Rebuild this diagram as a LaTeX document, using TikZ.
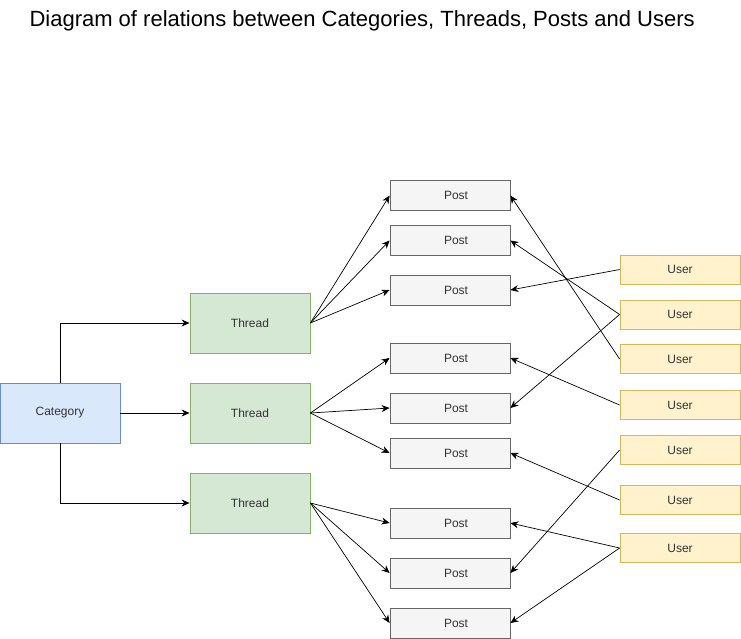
\documentclass[tikz,border=0pt]{standalone}
\usepackage{fontspec}
\setmainfont{Liberation Sans}
\usepackage{xcolor}
\usepackage{tikz}
\usetikzlibrary{arrows.meta}

\definecolor{catfill}{HTML}{DAE8FC}
\definecolor{catline}{HTML}{6C8EBF}
\definecolor{threadfill}{HTML}{D5E8D4}
\definecolor{threadline}{HTML}{82B366}
\definecolor{postfill}{HTML}{F5F5F5}
\definecolor{postline}{HTML}{666666}
\definecolor{userfill}{HTML}{FFF2CC}
\definecolor{userline}{HTML}{D6B656}
\definecolor{textgray}{HTML}{333333}

\begin{document}
\begin{tikzpicture}[x=1pt,y=-1pt]%%relations

        \tikzstyle{box}      = [rectangle, draw, minimum width=120pt, minimum height=30pt, inner sep=0pt, line width=0.8pt, text=textgray, font=\fontsize{12}{14}\selectfont]
        \tikzstyle{category} = [box, fill=catfill, draw=catline, minimum height=60pt]
        \tikzstyle{thread}   = [box, fill=threadfill, draw=threadline, minimum height=60pt]
        \tikzstyle{post}     = [box, fill=postfill, draw=postline, execute at begin node=\hspace*{12pt}]
        \tikzstyle{user}     = [box, fill=userfill, draw=userline, minimum height=29pt]
        \tikzstyle{link}     = [-{Stealth[length=8pt,width=7pt]}, line width=0.7pt]
        \useasboundingbox (0,0) rectangle (741,638);
        \node [font=\fontsize{22}{26}\selectfont, anchor=west](title) at (26,21) {Diagram of relations between Categories, Threads, Posts and Users};
        \node [category](cat) at (60,413) {Category};
        \foreach \i/\y in {1/323,2/413,3/503}
                \node [thread](t\i) at (250,\y) {Thread};
        \foreach \i/\y in {1/195.5,2/240.5,3/290,4/358,5/408,6/453,7/523,8/573,9/623}
                \node [post](p\i) at (450,\y) {Post};
        \foreach \i/\y in {1/269.5,2/314.5,3/359,4/405,5/450,6/500,7/548}
                \node [user](u\i) at (680,\y) {User};
        \draw [link] (cat.north) |- (t1.west);
        \draw [link] (cat.east) -- (t2.west);
        \draw [link] (cat.south) |- (t3.west);
        \foreach \t/\p in {1/1,1/2,1/3,2/4,2/5,2/6,3/7,3/8,3/9}
                \draw [link] (t\t.east) -- (p\p.west);
        \foreach \u/\p in {1/3,2/2,2/5,3/1,4/4,5/8,6/6,7/7,7/9}
                \draw [link] (u\u.west) -- (p\p.east);
\end{tikzpicture}
\end{document}
